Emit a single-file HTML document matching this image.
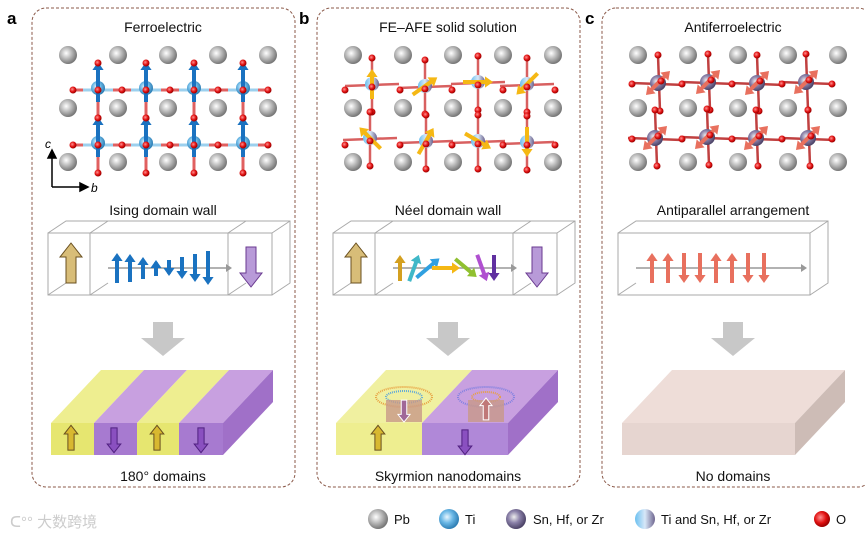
<!DOCTYPE html>
<html><head><meta charset="utf-8"><style>
html,body{margin:0;padding:0;background:#fff;width:865px;height:538px;overflow:hidden}
svg{display:block;font-family:"Liberation Sans",Arial,sans-serif}
</style></head><body>
<svg id="s" width="865" height="538" viewBox="0 0 865 538" xmlns="http://www.w3.org/2000/svg">
<defs>
<radialGradient id="gPb" cx="0.4" cy="0.4" r="0.6"><stop offset="0" stop-color="#fff"/><stop offset="0.5" stop-color="#bbb"/><stop offset="1" stop-color="#777"/></radialGradient>
<radialGradient id="gTi" cx="0.4" cy="0.4" r="0.6"><stop offset="0" stop-color="#e8f6ff"/><stop offset="0.5" stop-color="#6bb8e6"/><stop offset="1" stop-color="#2f7fb5"/></radialGradient>
<radialGradient id="gSn" cx="0.4" cy="0.4" r="0.6"><stop offset="0" stop-color="#eee"/><stop offset="0.5" stop-color="#8a80a8"/><stop offset="1" stop-color="#4d4468"/></radialGradient>
<linearGradient id="gMix" x1="0" x2="1"><stop offset="0" stop-color="#6bc0f0"/><stop offset="0.5" stop-color="#d8e8f8"/><stop offset="1" stop-color="#6e648e"/></linearGradient>
<radialGradient id="gO" cx="0.4" cy="0.4" r="0.6"><stop offset="0" stop-color="#ff9090"/><stop offset="0.6" stop-color="#e01010"/><stop offset="1" stop-color="#900"/></radialGradient>
</defs>
<g fill="none" stroke="#8b5a4a" stroke-width="1" stroke-dasharray="3,2">
<rect x="32" y="8" width="263" height="479" rx="14"/>
<rect x="317" y="8" width="263" height="479" rx="14"/>
<rect x="602" y="8" width="270" height="479" rx="14"/>
</g>
<g font-weight="bold" font-size="17" fill="#000">
<text x="7" y="24">a</text><text x="299" y="24">b</text><text x="585" y="24">c</text>
</g>
<g font-size="14" fill="#111" text-anchor="middle">
<text x="163" y="32">Ferroelectric</text>
<text x="448" y="32">FE–AFE solid solution</text>
<text x="733" y="32">Antiferroelectric</text>
<text x="163" y="215">Ising domain wall</text>
<text x="448" y="215">Néel domain wall</text>
<text x="733" y="215">Antiparallel arrangement</text>
<text x="163" y="481">180° domains</text>
<text x="448" y="481">Skyrmion nanodomains</text>
<text x="733" y="481">No domains</text>
</g>
<g id="L"></g>
<!-- axes a -->
<g stroke="#000" stroke-width="1.5" fill="#000">
<line x1="52" y1="187" x2="52" y2="156"/><path d="M48,158 L52,150 L56,158Z"/>
<line x1="52" y1="187" x2="82" y2="187"/><path d="M80,183 L88,187 L80,191Z"/>
</g>
<text x="45" y="148" font-size="12" font-style="italic">c</text>
<text x="91" y="192" font-size="12" font-style="italic">b</text>
<!-- grey arrows -->
<g fill="#c8c8c8">
<path d="M153,322 h20 v16 h12 l-22,18 l-22,-18 h12z"/>
<path d="M438,322 h20 v16 h12 l-22,18 l-22,-18 h12z"/>
<path d="M723,322 h20 v16 h12 l-22,18 l-22,-18 h12z"/>
</g>
<!-- slab a -->
<g>
<polygon points="51,423 94,423 144,370 101,370" fill="#eeee90"/>
<polygon points="94,423 137,423 187,370 144,370" fill="#c8a0e0"/>
<polygon points="137,423 179,423 229,370 187,370" fill="#eeee90"/>
<polygon points="179,423 223,423 273,370 229,370" fill="#c8a0e0"/>
<polygon points="223,423 273,370 273,402 223,455" fill="#a070c8"/>
<rect x="51" y="423" width="43" height="32" fill="#e6e670"/>
<rect x="94" y="423" width="43" height="32" fill="#a77ad0"/>
<rect x="137" y="423" width="42" height="32" fill="#e6e670"/>
<rect x="179" y="423" width="44" height="32" fill="#a77ad0"/>
</g>
<!-- slab b -->
<g>
<polygon points="336,423 422,423 472,370 386,370" fill="#f0f0a0"/>
<polygon points="422,423 508,423 558,370 472,370" fill="#c8a0e0"/>
<polygon points="508,423 558,370 558,402 508,455" fill="#a070c8"/>
<rect x="336" y="423" width="86" height="32" fill="#eeee90"/>
<rect x="422" y="423" width="86" height="32" fill="#b088d8"/>
<ellipse cx="404" cy="397" rx="28" ry="10" fill="none" stroke="#e8a040" stroke-width="2" stroke-dasharray="1,1"/>
<ellipse cx="404" cy="397" rx="18" ry="6" fill="none" stroke="#60a8d8" stroke-width="2" stroke-dasharray="1,1"/>
<rect x="386" y="400" width="36" height="22" fill="#c89888" opacity="0.8"/>
<ellipse cx="486" cy="397" rx="28" ry="10" fill="none" stroke="#8080e0" stroke-width="2" stroke-dasharray="1,1"/>
<ellipse cx="486" cy="397" rx="14" ry="5" fill="none" stroke="#e8a040" stroke-width="2" stroke-dasharray="1,1"/>
<rect x="468" y="400" width="36" height="22" fill="#c89888" opacity="0.8"/>
</g>
<!-- slab c -->
<polygon points="622,423 795,423 845,370 672,370" fill="#eeddd8"/>
<polygon points="795,423 845,370 845,402 795,455" fill="#cdbcb6"/>
<rect x="622" y="423" width="173" height="32" fill="#e6d5d0"/>
<g id="A"></g>
<!-- legend -->
<g font-size="13" fill="#111">
<circle cx="378" cy="519" r="10" fill="url(#gPb)"/><text x="394" y="524">Pb</text>
<circle cx="449" cy="519" r="10" fill="url(#gTi)"/><text x="465" y="524">Ti</text>
<circle cx="516" cy="519" r="10" fill="url(#gSn)"/><text x="533" y="524">Sn, Hf, or Zr</text>
<circle cx="645" cy="519" r="10" fill="url(#gMix)"/><text x="661" y="524">Ti and Sn, Hf, or Zr</text>
<circle cx="822" cy="519" r="8" fill="url(#gO)"/><text x="836" y="524">O</text>
</g>
<text x="10" y="527" font-size="15" fill="#ccc" font-family="'Liberation Sans','Noto Sans CJK SC',sans-serif">ᑕ°° 大数跨境</text>
</svg>
<script>
var L=document.getElementById('L'),A=document.getElementById('A'),h='',a='';
function c(x,y,r,f){return '<circle cx="'+x+'" cy="'+y+'" r="'+r+'" fill="url(#'+f+')"/>';}
function ln(x1,y1,x2,y2,col,w){return '<line x1="'+x1+'" y1="'+y1+'" x2="'+x2+'" y2="'+y2+'" stroke="'+col+'" stroke-width="'+(w||3)+'"/>';}
function arr(x,y,ang,len,col,w,dbl){ // centered arrow
 var r=ang*Math.PI/180,dx=Math.cos(r)*len/2,dy=Math.sin(r)*len/2,x2=x+dx,y2=y+dy,x1=x-dx,y1=y-dy;
 var s=ln(x1,y1,x2-dx*0.3,y2-dy*0.3,col,w);
 function head(px,py,ux,uy){var n=Math.hypot(ux,uy),u=ux/n,v=uy/n,hl=w*2,hw=w*1.4;
  return '<polygon points="'+px+','+py+' '+(px-u*hl-v*hw)+','+(py-v*hl+u*hw)+' '+(px-u*hl+v*hw)+','+(py-v*hl-u*hw)+'" fill="'+col+'"/>';}
 s+=head(x2,y2,dx,dy); if(dbl){s=ln(x1+dx*0.3,y1+dy*0.3,x2-dx*0.3,y2-dy*0.3,col,w)+head(x2,y2,dx,dy)+head(x1,y1,-dx,-dy);}
 return s;}
var pbx=[68,118,168,218,268],pby=[55,108,162],tix=[98,146,194,243],tiy=[88,143];
// panel a
for(var o=0;o<3;o++){var off=o*285;
 for(var i=0;i<5;i++)for(var j=0;j<3;j++)h+=c(pbx[i]+off,pby[j],9,'gPb');}
// a bonds
tix.forEach(function(x){tiy.forEach(function(y){
 h+=ln(x,y-25,x,y+30,'#e06060',3);h+=ln(x-25,y+2,x+25,y+2,'#e06060',3);h+=ln(x-15,y+2,x+15,y+2,'#9cd0ee',3);});
 });
tix.forEach(function(x){tiy.forEach(function(y){h+=c(x,y,7,'gTi');h+=arr(x,y-6,-90,40,'#1a72c0',4);
 h+=c(x,y-25,3.5,'gO');h+=c(x,y+2,3.5,'gO');h+=c(x,y+30,3.5,'gO');});});
[73,122,170,218,268].forEach(function(x){tiy.forEach(function(y){h+=c(x,y+2,3.5,'gO');});});
// panel b
var bt=[[372,84,-90],[425,86,-35],[478,82,0],[527,84,135],[370,138,-135],[426,141,-60],[478,141,30],[527,142,90]];
bt.forEach(function(t){h+=ln(t[0],t[1]-28,t[0],t[1]+28,'#d86060',2.5);h+=ln(t[0]-27,t[1]+2,t[0]+27,t[1],'#d86060',2.5);});
bt.forEach(function(t){h+=c(t[0],t[1],7,'gMix');h+=arr(t[0],t[1],t[2],30,'#f5b814',4);h+=c(t[0],t[1]+3,3.5,'gO');h+=c(t[0],t[1]-26,3.5,'gO');h+=c(t[0],t[1]+28,3.5,'gO');});
[345,400,452,503,555].forEach(function(x){h+=c(x,90,3.5,'gO');h+=c(x,145,3.5,'gO');});
// panel c
var ct=[[658,83,-45],[708,82,135],[757,83,-45],[806,82,135],[655,138,135],[707,137,-45],[756,138,135],[808,138,-45]];
ct.forEach(function(t){h+=ln(t[0],t[1]-28,t[0]+2,t[1]+28,'#c04040',2.5);h+=ln(t[0]-27,t[1],t[0]+27,t[1]+2,'#c04040',2.5);});
ct.forEach(function(t){h+=c(t[0],t[1],8,'gSn');h+=arr(t[0],t[1],t[2],34,'#e8705e',4,true);h+=c(t[0]+3,t[1]-2,3.5,'gO');h+=c(t[0],t[1]-28,3.5,'gO');h+=c(t[0]+2,t[1]+28,3.5,'gO');});
[632,682,732,782,832].forEach(function(x){h+=c(x,84,3.5,'gO');h+=c(x,139,3.5,'gO');});
L.innerHTML=h;
// domain wall boxes
function box(x1,x2,y1,y2,dx,dy,secs){var s='<g fill="none" stroke="#aaa" stroke-width="1">';
 s+='<rect x="'+x1+'" y="'+y1+'" width="'+(x2-x1)+'" height="'+(y2-y1)+'"/>';
 s+='<polyline points="'+x1+','+y1+' '+(x1+dx)+','+(y1-dy)+' '+(x2+dx)+','+(y1-dy)+' '+(x2+dx)+','+(y2-dy)+' '+x2+','+y2+'"/>';
 s+=ln(x2,y1,x2+dx,y1-dy,'#aaa',1)+ln(x1,y2,x1+dx,y2-dy,'#aaa',1);
 secs.forEach(function(x){s+='<line x1="'+x+'" y1="'+y1+'" x2="'+x+'" y2="'+y2+'"/><polyline points="'+x+','+y1+' '+(x+dx)+','+(y1-dy)+'"/><polyline points="'+x+','+y2+' '+(x+dx)+','+(y2-dy)+'"/>';});
 s+='</g>';return s;}
a+=box(48,272,233,295,18,12,[90,228]);
a+=box(333,557,233,295,18,12,[375,513]);
a+=box(618,810,233,295,18,12,[]);
a+=ln(108,268,228,268,'#999',1.5)+'<polygon points="232,268 226,264 226,272" fill="#999"/>';
a+=ln(393,268,513,268,'#999',1.5)+'<polygon points="517,268 511,264 511,272" fill="#999"/>';
a+=ln(636,268,803,268,'#999',1.5)+'<polygon points="807,268 801,264 801,272" fill="#999"/>';
function bigA(x,y,up,fill,st,s){s=s||1;var p=up?[[0,-22],[11,-8],[5,-8],[5,18],[-5,18],[-5,-8],[-11,-8]]:[[0,22],[11,8],[5,8],[5,-18],[-5,-18],[-5,8],[-11,8]];
 return '<polygon points="'+p.map(function(q){return (x+q[0]*s)+','+(y+q[1]*s)}).join(' ')+'" fill="'+fill+'" stroke="'+st+'" stroke-width="1"/>';}
a+=bigA(71,265,true,'#d8bd78','#6a5020');a+=bigA(251,265,false,'#b89ad8','#6a3a90');
a+=bigA(356,265,true,'#d8bd78','#6a5020');a+=bigA(537,265,false,'#b89ad8','#6a3a90');
var ia=[[117,30,1],[130,28,1],[143,22,1],[156,16,1],[169,16,-1],[182,22,-1],[195,28,-1],[208,34,-1]];
ia.forEach(function(t){a+=arr(t[0],268,t[2]>0?-90:90,t[1],'#1a72c0',4);});
var na=[[400,-90,'#d4a020',26],[414,-70,'#40b8c8',28],[428,-40,'#30a0e0',30],[446,0,'#f5b814',28],[466,40,'#90c030',28],[482,70,'#b050d0',28],[494,90,'#6030a0',26]];
na.forEach(function(t){a+=arr(t[0],268,t[1],t[3],t[2],4);});
[652,668,684,700,716,732,748,764].forEach(function(x,i){var up=[1,1,0,0,1,1,0,0][i];a+=arr(x,268,up?-90:90,30,'#e8705e',4);});
// slab arrows
[[71,439,1],[114,439,0],[157,439,1],[201,439,0]].forEach(function(t){a+=bigA(t[0],t[1],t[2],t[2]?'#d8b830':'#8a50c0',t[2]?'#6a5020':'#502080',0.62);});
a+=bigA(378,439,true,'#d8b830','#6a5020',0.62);a+=bigA(465,441,false,'#8a50c0','#502080',0.62);
a+=bigA(404,410,false,'#a06898','#fff',0.55);a+=bigA(486,410,true,'#c07878','#fff',0.55);
A.innerHTML=a;
</script>
</body></html>
